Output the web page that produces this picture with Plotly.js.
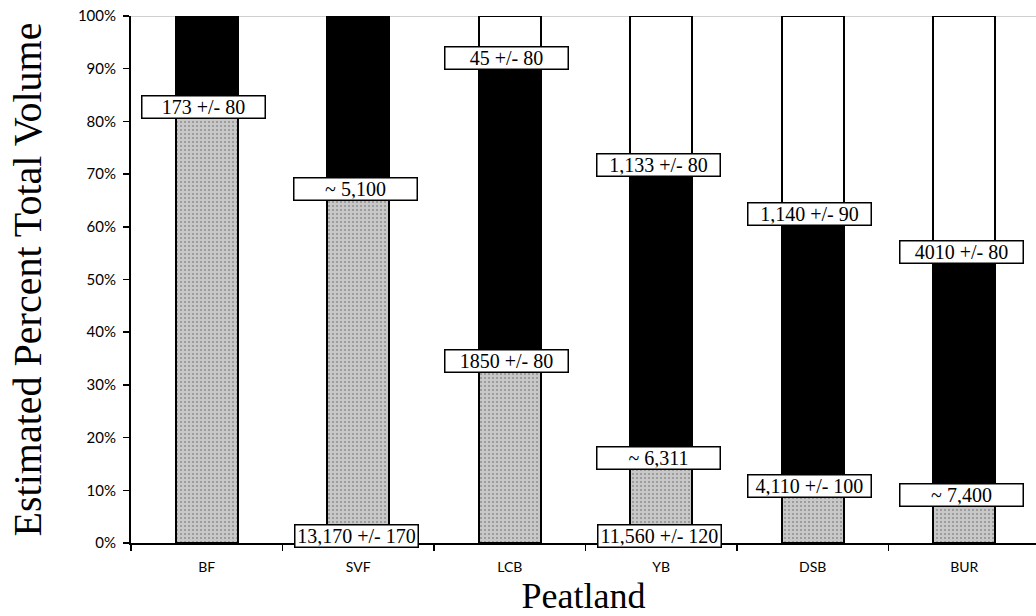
<!DOCTYPE html>
<html>
<head>
<meta charset="utf-8">
<script src="https://cdn.plot.ly/plotly-3.0.1.min.js"></script>
<style>html,body{margin:0;padding:0;background:#fff;}#chart{width:1036px;height:616px;}</style>
</head>
<body>
<div id="chart"></div>
<script>
// Categories (peatlands)
const categories = ['BF', 'SVF', 'LCB', 'YB', 'DSB', 'BUR'];
// Estimated percent of total volume per segment (bottom grey, middle black, top white)
const greyPct  = [82.7, 67.2, 34.5, 16.2, 10.8, 9.1];
const blackPct = [17.3, 32.8, 57.5, 55.5, 51.6, 46.1];
const whitePct = [0.0, 0.0, 8.0, 28.3, 37.6, 44.8];
// Volume labels
const upperLabels  = ['', '', '45 +/- 80', '1,133 +/- 80', '1,140 +/- 90', '4010 +/- 80'];
const middleLabels = ['173 +/- 80', '~ 5,100', '1850 +/- 80', '~ 6,311', '4,110 +/- 100', '~ 7,400'];
const baseLabels   = ['', '13,170 +/- 170', '', '11,560 +/- 120', '', ''];
const yTicks = [0, 10, 20, 30, 40, 50, 60, 70, 80, 90, 100];

const barW = 0.41;
const outline = {color: '#000', width: 1.8};
const traces = [
  {type: 'bar', x: categories, y: greyPct, width: barW,
   marker: {color: '#c4c4c4', line: outline,
            pattern: {shape: '.', fgcolor: '#8f8f8f', bgcolor: '#c8c8c8', size: 4, solidity: 0.2}},
   hoverinfo: 'skip'},
  {type: 'bar', x: categories, y: blackPct, width: barW,
   marker: {color: '#000', line: outline}, hoverinfo: 'skip'},
  {type: 'bar', x: categories, y: whitePct, width: barW,
   marker: {color: '#fff', line: outline}, hoverinfo: 'skip'}
];

const boxStyle = {
  showarrow: false, bgcolor: '#fff', bordercolor: '#000', borderwidth: 1.5,
  borderpad: 1, width: 120, height: 19,
  font: {family: 'Liberation Serif, Times New Roman, serif', size: 20, color: '#000'}
};
const annotations = [];
categories.forEach((c, i) => {
  const g = greyPct[i], b = blackPct[i];
  if (middleLabels[i]) annotations.push(Object.assign({x: c, y: g, xref: 'x', yref: 'y', text: middleLabels[i], xshift: -3}, boxStyle));
  if (upperLabels[i]) annotations.push(Object.assign({x: c, y: g + b, xref: 'x', yref: 'y', text: upperLabels[i], xshift: -3}, boxStyle));
  if (baseLabels[i]) annotations.push(Object.assign({x: c, y: 0, xref: 'x', yref: 'y', text: baseLabels[i], yshift: 7, xshift: -2}, boxStyle));
});

const layout = {
  width: 1036, height: 616,
  margin: {l: 131, r: 0, t: 16, b: 73},
  paper_bgcolor: '#fff', plot_bgcolor: '#fff',
  barmode: 'stack', showlegend: false,
  xaxis: {
    type: 'category', categoryorder: 'array', categoryarray: categories,
    range: [-0.5, 5.474],
    showline: true, linecolor: '#000', linewidth: 2,
    ticks: 'outside', tickson: 'boundaries', ticklen: 6, tickwidth: 1.5, tickcolor: '#000',
    showgrid: false, zeroline: false,
    tickfont: {family: 'Lato, Open Sans, sans-serif', size: 14, color: '#000'},
    ticklabelstandoff: 10,
    title: {text: 'Peatland', font: {family: 'Liberation Serif, Times New Roman, serif', size: 36, color: '#000'}, standoff: 10}
  },
  yaxis: {
    range: [0, 100], tickvals: yTicks, ticktext: yTicks.map(v => v + '%'),
    showline: true, linecolor: '#000', linewidth: 2,
    ticks: 'outside', ticklen: 6, tickwidth: 1.5, tickcolor: '#000',
    showgrid: false, zeroline: false,
    tickfont: {family: 'Lato, Open Sans, sans-serif', size: 15, color: '#000'},
    ticklabelstandoff: 4,
    title: {text: 'Estimated Percent Total Volume', font: {family: 'Liberation Serif, Times New Roman, serif', size: 40, color: '#000'}, standoff: 24}
  },
  shapes: [
    {type: 'line', xref: 'paper', yref: 'y', x0: 0, x1: 1, y0: 100, y1: 100,
     line: {color: '#a0a0a0', width: 1}, layer: 'below'}
  ],
  annotations: annotations
};

Plotly.newPlot('chart', traces, layout, {displayModeBar: false, staticPlot: true});
</script>
</body>
</html>
